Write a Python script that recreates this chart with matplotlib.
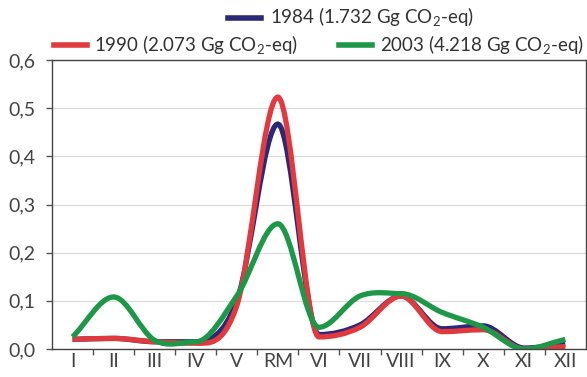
import numpy as np
import matplotlib
matplotlib.use('Agg')
import matplotlib.pyplot as plt
from matplotlib.path import Path
from matplotlib.patches import PathPatch
from matplotlib.lines import Line2D

months = ['I', 'II', 'III', 'IV', 'V', 'RM', 'VI', 'VII', 'VIII', 'IX', 'X', 'XI', 'XII']
y1984 = [0.020, 0.022, 0.015, 0.015, 0.100, 0.467, 0.030, 0.050, 0.110, 0.042, 0.048, 0.002, 0.010]
y1990 = [0.020, 0.022, 0.015, 0.012, 0.090, 0.523, 0.025, 0.045, 0.110, 0.036, 0.040, 0.000, 0.005]
y2003 = [0.025, 0.108, 0.018, 0.015, 0.110, 0.260, 0.045, 0.110, 0.115, 0.076, 0.045, 0.000, 0.020]

labels = ['1984 (1.732 Gg CO$_2$-eq)', '1990 (2.073 Gg CO$_2$-eq)', '2003 (4.218 Gg CO$_2$-eq)']
colors = ['#2b2878', '#e03a3e', '#1d9748']

plt.rcParams['font.family'] = ['Lato', 'DejaVu Sans']
plt.rcParams['mathtext.fontset'] = 'custom'
plt.rcParams['mathtext.rm'] = 'Lato'


def smooth_path(xs, ys):
    # cubic bezier segments, tangents flattened at local peaks/dips
    xs = np.asarray(xs, float)
    ys = np.asarray(ys, float)
    n = len(ys)
    m = np.zeros(n)
    for i in range(n):
        if i == 0:
            m[i] = ys[1] - ys[0]
        elif i == n - 1:
            m[i] = ys[-1] - ys[-2]
        else:
            d0 = ys[i] - ys[i - 1]
            d1 = ys[i + 1] - ys[i]
            m[i] = 0.0 if d0 * d1 <= 0 else (ys[i + 1] - ys[i - 1]) / 2.0
    verts = [(xs[0], ys[0])]
    codes = [Path.MOVETO]
    for i in range(n - 1):
        h = xs[i + 1] - xs[i]
        verts += [(xs[i] + h / 3, ys[i] + m[i] / 3),
                  (xs[i + 1] - h / 3, ys[i + 1] - m[i + 1] / 3),
                  (xs[i + 1], ys[i + 1])]
        codes += [Path.CURVE4] * 3
    return Path(verts, codes)


fig = plt.figure(figsize=(5.87, 3.77), dpi=100)
ax = fig.add_axes([0.0886, 0.0743, 0.9094, 0.7665])

x = np.arange(len(months))
for ys, c in zip([y1984, y1990, y2003], colors):
    patch = PathPatch(smooth_path(x, ys), facecolor='none', edgecolor=c,
                      lw=3.8, capstyle='butt', joinstyle='round')
    ax.add_patch(patch)

ax.set_xlim(-0.5, len(months) - 0.5)
ax.set_ylim(0, 0.6)
yt = np.arange(0, 0.61, 0.1)
ax.set_yticks(yt)
ax.set_yticklabels([('%.1f' % v).replace('.', ',') for v in yt])
ax.set_xticks(x)
ax.set_xticklabels(months)
ax.set_xticks(np.arange(-0.5, len(months), 1.0)[1:-1], minor=True)
ax.tick_params(axis='x', which='major', length=0, labelsize=14, pad=3, colors='#444444')
ax.tick_params(axis='x', which='minor', length=4, width=1, color='#555555')
ax.tick_params(axis='y', length=4, width=1, labelsize=14, pad=8, colors='#444444', color='#555555')
ax.grid(axis='y', color='#dddddd', lw=0.9)
ax.set_axisbelow(True)
for s in ax.spines.values():
    s.set_color('#444444')
    s.set_linewidth(1.0)

h = [Line2D([], [], color=c, lw=4) for c in colors]
leg1 = fig.legend([h[0]], [labels[0]], loc='center', bbox_to_anchor=(0.598, 0.953),
                  frameon=False, fontsize=13.5, handlelength=1.75, handletextpad=0.5,
                  borderaxespad=0, borderpad=0)
leg2 = fig.legend([h[1], h[2]], [labels[1], labels[2]], loc='center', ncol=2,
                  bbox_to_anchor=(0.543, 0.88), frameon=False, fontsize=13.5,
                  handlelength=1.75, handletextpad=0.4, columnspacing=2.2,
                  borderaxespad=0, borderpad=0)
for leg in (leg1, leg2):
    for t in leg.get_texts():
        t.set_color('#333333')

fig.savefig('out.png', dpi=100)
